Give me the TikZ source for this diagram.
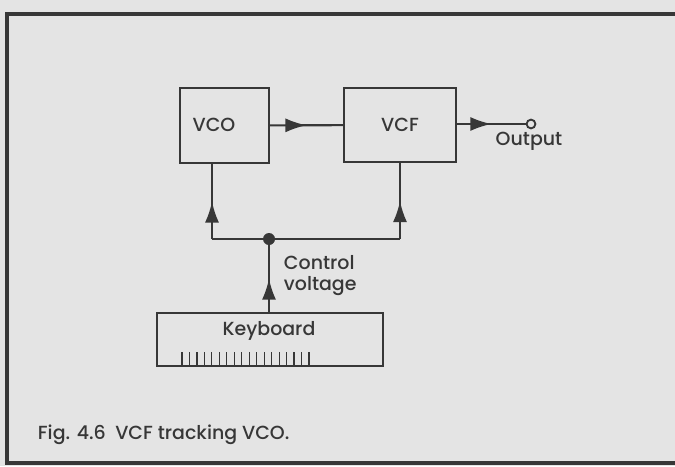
\documentclass[tikz,border=0pt]{standalone}
\usepackage{fontspec}
\setmainfont{Poppins}[UprightFont={* Medium}]
\usetikzlibrary{arrows.meta,positioning,calc,decorations.markings}

\definecolor{paper}{RGB}{228,228,228}
\definecolor{ink}{RGB}{55,55,55}

\begin{document}
\begin{tikzpicture}[x=0.025cm,y=-0.025cm,
    font=\fontsize{13.5}{16}\selectfont,text=ink]
  \tikzstyle{box}=[draw=ink,line width=1.5pt,inner sep=0pt]
  \tikzstyle{wire}=[draw=ink,line width=1.5pt]
  \tikzstyle{mid}=[wire,postaction={decorate},decoration={markings,mark=at position 0.5 with {\arrow[ink]{Latex[length=15pt,width=10pt]}}}]
  % paper and frame
  \fill[paper] (0,0) rectangle (675,466);
  \useasboundingbox (0,0) rectangle (675,466);
  \draw[ink,line width=2.4pt] (675,14) -- (7,14) -- (7,463) -- (675,463);
  % blocks
  \node[box,minimum width=2.225cm,minimum height=1.875cm] (vco) at (224.5,125.5) {};
  \node (vcolbl) at (214,125) {VCO};
  \node[box,minimum width=2.8cm,minimum height=1.85cm] (vcf) at (400,125) {VCF};
  \node[box,minimum width=5.65cm,minimum height=1.325cm] (kbd) at (270,339.5) {};
  \node (kbdlbl) at (269,331) {Keyboard};
  \foreach \i in {0,...,17}
    \draw[ink,line width=0.8pt] (182+7.47*\i,352) -- (182+7.47*\i,366);
  % output terminal
  \node[draw=ink,circle,line width=1.3pt,minimum size=0.22cm,inner sep=0pt] (out) at (531,124) {};
  \node (outlbl) at (529,141) {Output};
  % control voltage
  \node[circle,fill=ink,minimum size=0.3cm,inner sep=0pt] (j) at (269,239) {};
  \coordinate (lc) at (212,239);
  \coordinate (rc) at (400,239);
  \node[anchor=west,align=left,font=\fontsize{13.5}{15}\selectfont] (cv) at (279,276) {Control\\voltage};
  % connectors
  \draw[mid] (vco) -- (vcf);
  \draw[mid] (vcf.east|-out) -- (out);
  \draw[wire] (lc) -- (rc);
  \draw[mid] (lc) -- (lc|-vco.south);
  \draw[mid] (rc) -- (vcf.south);
  \draw[mid] (kbd.north-|j) -- (j);
  % caption
  \node[anchor=west] (cap) at (33,435) {Fig. 4.6\enspace VCF tracking VCO.};
\end{tikzpicture}
\end{document}
